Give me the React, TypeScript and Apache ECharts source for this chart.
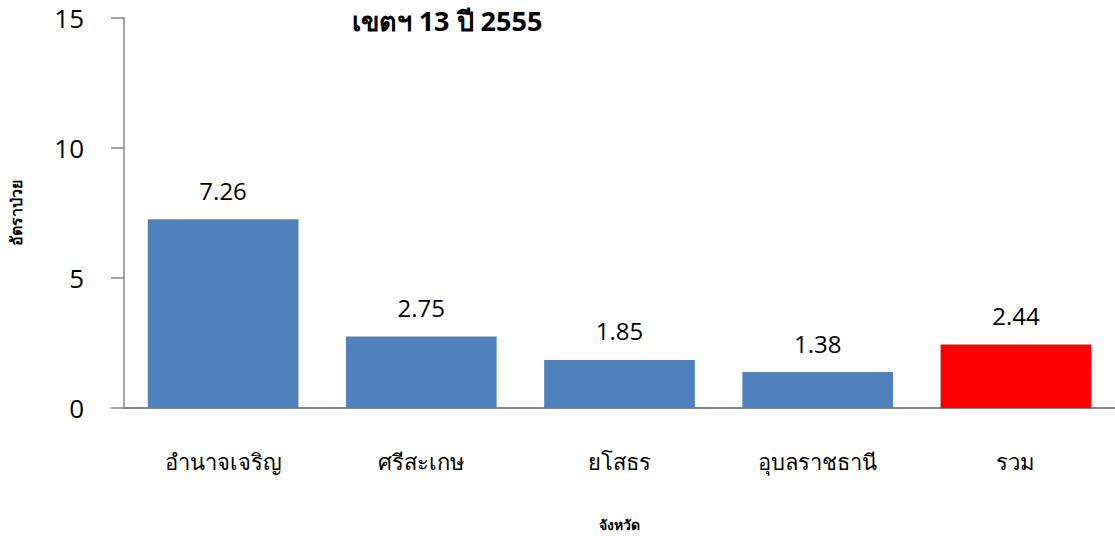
import React, { useEffect, useRef } from "react";
import * as echarts from "echarts";

const categories = ["อำนาจเจริญ", "ศรีสะเกษ", "ยโสธร", "อุบลราชธานี", "รวม"];
const values = [7.26, 2.75, 1.85, 1.38, 2.44];
const barColors = ["#4F81BD", "#4F81BD", "#4F81BD", "#4F81BD", "#FF0000"];
const yTicks = { min: 0, max: 15, interval: 5 };
const titleText = "เขตฯ 13 ปี 2555";
const yName = "อัตราป่วย";
const xName = "จังหวัด";

export default function App() {
  const ref = useRef<HTMLDivElement>(null);
  useEffect(() => {
    if (!ref.current) return;
    const chart = echarts.init(ref.current, null, { renderer: "svg" });
    const font = "'Open Sans', 'Noto Sans', sans-serif";
    chart.setOption({
      animation: false,
      backgroundColor: "#ffffff",
      textStyle: { fontFamily: font },
      graphic: [
        {
          type: "text",
          x: 447,
          y: 7,
          style: {
            text: titleText,
            fontSize: 27,
            fontWeight: "bold",
            fill: "#000",
            align: "center",
            verticalAlign: "top",
            fontFamily: font,
          },
        },
      ],
      grid: { left: 123, right: 0, top: 18, bottom: 123, containLabel: false },
      xAxis: {
        type: "category",
        data: categories,
        name: xName,
        nameLocation: "middle",
        nameGap: 109,
        nameTextStyle: { fontSize: 14, fontWeight: "bold", color: "#000" },
        axisLine: { lineStyle: { color: "#868686", width: 2 } },
        axisTick: { show: false },
        axisLabel: { fontSize: 22, color: "#000", margin: 42 },
      },
      yAxis: {
        type: "value",
        min: yTicks.min,
        max: yTicks.max,
        interval: yTicks.interval,
        name: yName,
        nameLocation: "middle",
        nameRotate: 90,
        nameGap: 100,
        nameTextStyle: { fontSize: 16, fontWeight: "bold", color: "#000" },
        axisLine: { show: true, lineStyle: { color: "#868686", width: 1.5 } },
        axisTick: { show: true, length: 13, lineStyle: { color: "#868686", width: 1.5 } },
        axisLabel: { fontSize: 26, color: "#000", margin: 40 },
        splitLine: { show: false },
      },
      series: [
        {
          type: "bar",
          data: values.map((v, i) => ({ value: v, itemStyle: { color: barColors[i] } })),
          barCategoryGap: "24%",
          label: {
            show: true,
            position: "top",
            distance: 17,
            fontSize: 24,
            color: "#000",
            fontWeight: "normal",
            formatter: (p: any) => p.value.toFixed(2),
          },
        },
      ],
    });
    return () => chart.dispose();
  }, []);
  return (
    <div
      ref={ref}
      style={{ position: "fixed", left: 0, top: 0, width: 1115, height: 536 }}
    />
  );
}
